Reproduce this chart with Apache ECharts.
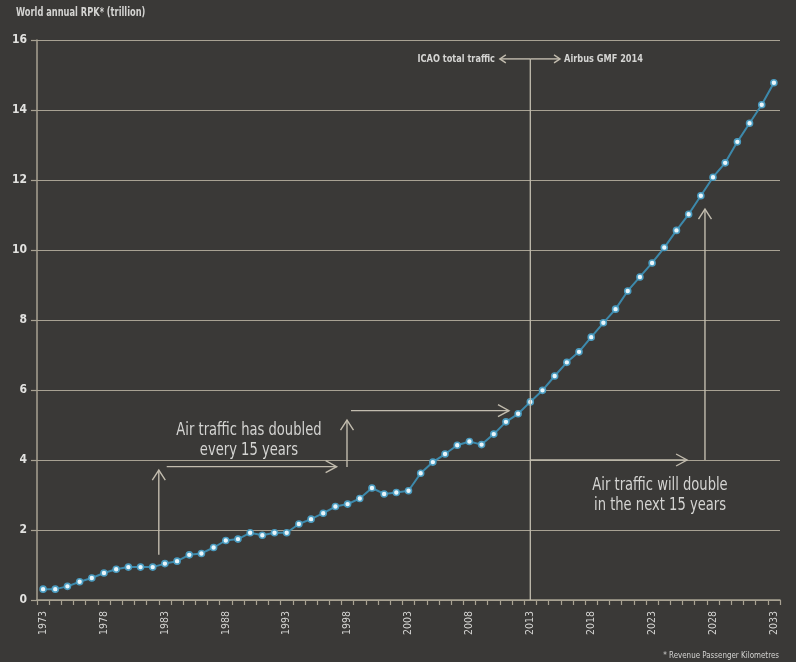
<!DOCTYPE html>
<html><head><meta charset="utf-8">
<script src="https://cdn.jsdelivr.net/npm/echarts@6/dist/echarts.min.js"></script>
<style>html,body{margin:0;padding:0;background:#3a3937}#c{width:796px;height:662px}</style>
</head><body><div id="c"></div>
<script>
const years = ['1973','1974','1975','1976','1977','1978','1979','1980','1981','1982',
'1983','1984','1985','1986','1987','1988','1989','1990','1991','1992',
'1993','1994','1995','1996','1997','1998','1999','2000','2001','2002',
'2003','2004','2005','2006','2007','2008','2009','2010','2011','2012',
'2013','2014','2015','2016','2017','2018','2019','2020','2021','2022',
'2023','2024','2025','2026','2027','2028','2029','2030','2031','2032','2033'];
const rpk = [0.31,0.31,0.39,0.52,0.63,0.77,0.88,0.94,0.94,0.94,
1.04,1.11,1.29,1.33,1.50,1.70,1.74,1.92,1.85,1.92,
1.92,2.17,2.31,2.48,2.67,2.74,2.90,3.20,3.03,3.07,
3.12,3.62,3.94,4.17,4.42,4.53,4.44,4.74,5.09,5.32,
5.66,5.99,6.40,6.79,7.09,7.51,7.92,8.31,8.83,9.23,
9.63,10.07,10.56,11.02,11.55,12.08,12.49,13.09,13.62,14.15,14.78];
const yMin = 0, yMax = 16, yStep = 2;
const title = 'World annual RPK* (trillion)';
const footnote = '* Revenue Passenger Kilometres';
const splitYear = 2013;
const labelLeft = 'ICAO total traffic';
const labelRight = 'Airbus GMF 2014';
const note1 = ['Air traffic has doubled', 'every 15 years'];
const note2 = ['Air traffic will double', 'in the next 15 years'];

const FONT = "'Liberation Sans Narrow','DejaVu Sans Condensed','Liberation Sans',sans-serif";
const AX = '#a8a293';
const TXT = '#d4d4d2';
const ARW = '#c2bcae';

const chart = echarts.init(document.getElementById('c'));
chart.setOption({
  backgroundColor: '#3a3937',
  animation: false,
  textStyle: { fontFamily: FONT },
  grid: { left: 37, right: 16, top: 40, bottom: 62, containLabel: false },
  xAxis: {
    type: 'category', data: years, boundaryGap: true,
    axisLine: { lineStyle: { color: AX, width: 1.5 } },
    axisTick: { show: true, length: 5, interval: 0, lineStyle: { color: AX, width: 1.2 } },
    axisLabel: { interval: 4, rotate: 90, margin: 11, color: TXT, fontSize: 10.5, fontFamily: FONT },
    splitLine: { show: false }
  },
  yAxis: {
    type: 'value', min: yMin, max: yMax, interval: yStep,
    axisLine: { show: true, lineStyle: { color: AX, width: 1.5 } },
    axisTick: { show: true, length: 6, lineStyle: { color: AX, width: 1.2 } },
    axisLabel: { margin: 10, color: '#e2e2e0', fontSize: 12, fontWeight: 'bold', fontFamily: FONT },
    splitLine: { show: true, lineStyle: { color: AX, width: 1.2 } }
  },
  series: [{
    type: 'line', data: rpk,
    symbol: 'circle', symbolSize: 6,
    lineStyle: { color: '#3d89ab', width: 2 },
    itemStyle: { color: '#eaf6fb', borderColor: '#4b9cc0', borderWidth: 1.6 },
    z: 5
  }]
});

// data (fractional year, value) -> pixel, interpolating between category centres
function P(year, v) {
  const i = year - 1973, i0 = Math.floor(i);
  const a = chart.convertToPixel({ gridIndex: 0 }, [i0, v]);
  const b = chart.convertToPixel({ gridIndex: 0 }, [i0 + 1, v]);
  return [a[0] + (i - i0) * (b[0] - a[0]), a[1]];
}
function line(a, b, w) {
  return { type: 'line', shape: { x1: a[0], y1: a[1], x2: b[0], y2: b[1] },
    style: { stroke: ARW, lineWidth: w || 1.4 }, z: 10 };
}
function head(tip, dir, len, half) {
  let pts;
  if (dir === 'right') pts = [[tip[0]-len, tip[1]-half], tip, [tip[0]-len, tip[1]+half]];
  else if (dir === 'left') pts = [[tip[0]+len, tip[1]-half], tip, [tip[0]+len, tip[1]+half]];
  else pts = [[tip[0]-half, tip[1]+len], tip, [tip[0]+half, tip[1]+len]];
  return { type: 'polyline', shape: { points: pts }, style: { stroke: ARW, lineWidth: 1.4, fill: null }, z: 10 };
}
function arrow(a, b, dir, len, half) {
  return [line(a, b), head(b, dir, len || 11, half || 6)];
}
function text(pt, s, align, size, weight, sx, color) {
  return { type: 'text', x: pt[0], y: pt[1], scaleX: sx || 1, z: 11,
    style: { text: s, fill: color || TXT, font: (weight || 'normal') + ' ' + size + 'px ' + FONT,
      textAlign: align, textVerticalAlign: 'middle' } };
}

const g = [];
// title
g.push(text([16, 13], title, 'left', 11.5, 'bold', 0.8));
// vertical split line at 2013
g.push(line(P(splitYear, 0), P(splitYear, 15.46), 1.3));
// top double arrow
g.push(...arrow(P(splitYear, 15.46), P(2010.5, 15.46), 'left', 6, 4));
g.push(...arrow(P(splitYear, 15.46), P(2015.44, 15.46), 'right', 6, 4));
g.push(text(P(2010.1, 15.46), labelLeft, 'right', 11, 'bold', 0.83));
g.push(text(P(2015.77, 15.46), labelRight, 'left', 11, 'bold', 0.83));
// staircase arrows (past)
g.push(...arrow(P(1982.5, 1.29), P(1982.5, 3.71), 'up', 10, 6.5));
g.push(...arrow(P(1983.15, 3.81), P(1997.1, 3.81), 'right'));
g.push(...arrow(P(1997.95, 3.80), P(1997.95, 5.14), 'up', 10, 6.5));
g.push(...arrow(P(1998.28, 5.41), P(2011.25, 5.41), 'right'));
// future arrows
g.push(...arrow(P(2013, 4.0), P(2025.87, 4.0), 'right'));
g.push(...arrow(P(2027.34, 4.0), P(2027.34, 11.17), 'up', 10, 6.5));
// notes
g.push(text(P(1989.9, 4.84), note1[0], 'center', 18, 'normal', 0.81));
g.push(text(P(1989.9, 4.29), note1[1], 'center', 18, 'normal', 0.81));
g.push(text(P(2023.65, 3.29), note2[0], 'center', 18, 'normal', 0.81));
g.push(text(P(2023.65, 2.71), note2[1], 'center', 18, 'normal', 0.81));
// footnote
g.push(text([779, 656], footnote, 'right', 9, 'normal', 0.88));
chart.setOption({ graphic: g });
</script></body></html>
